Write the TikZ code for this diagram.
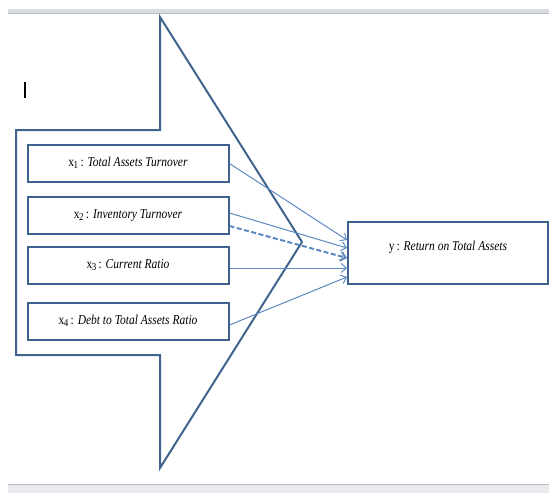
\documentclass[tikz,border=0pt]{standalone}
\usepackage{fontspec}
\setmainfont{Liberation Serif}
\usetikzlibrary{arrows.meta}
\definecolor{shapeline}{HTML}{41648F}
\definecolor{boxline}{HTML}{3F6190}
\definecolor{arrowcol}{HTML}{5E88C0}
\definecolor{barfill}{HTML}{D9DCE1}
\definecolor{barline}{HTML}{B8BCC4}
\tikzset{
  varbox/.style={draw=boxline, line width=2pt, fill=white, rectangle, inner sep=0pt,
    minimum width=201pt, minimum height=37pt, font=\fontsize{11.5}{13}\selectfont},
  resbox/.style={draw=boxline, line width=2pt, fill=white, rectangle, inner sep=0pt,
    minimum width=200pt, minimum height=62pt, font=\fontsize{11.5}{13}\selectfont},
  linkarrow/.style={draw=arrowcol, line width=1pt, -{Straight Barb[length=5pt,width=9pt]}},
  dasharrow/.style={draw=arrowcol, line width=2pt, dash pattern=on 5pt off 2.5pt,
    -{Straight Barb[length=5pt,width=9pt]}},
  bigarrow/.style={draw=shapeline, line width=2pt, line join=miter}
}
\newcommand{\lab}[2]{\raisebox{3pt}{\scalebox{1}[1.18]{x\textsubscript{\kern-0.5pt\fontsize{9}{10}\selectfont #1}\,: \textit{#2}}}}
\begin{document}
\begin{tikzpicture}[x=1pt,y=-1pt]
\useasboundingbox (0,0) rectangle (549,493);
% window chrome: ruler and status bar
\fill[barfill] (8,9) rectangle (549,13);
\draw[barline, line width=0.6pt] (8,13) -- (549,13);
\fill[barfill!60] (8,484) rectangle (549,493);
\draw[barline, line width=0.8pt] (8,484) -- (549,484);
% text cursor
\draw[black, line width=1.4pt] (25,82) -- (25,98);
% big block arrow
\draw[bigarrow] (16,130) -- (160,130) -- (160,17) -- (302,242) -- (160,468) -- (160,355) -- (16,355) -- cycle;
% variable boxes
\node[varbox] (x1) at (128,163.5) {\lab{1}{Total Assets Turnover}};
\node[varbox] (x2) at (128,215.5) {\lab{2}{Inventory Turnover}};
\node[varbox] (x3) at (128,265.5) {\lab{3}{Current Ratio}};
\node[varbox] (x4) at (128,321.5) {\lab{4}{Debt to Total Assets Ratio}};
% result box
\node[resbox] (y) at (448,253) {\raisebox{14pt}{\scalebox{1}[1.18]{y\,: \textit{Return on Total Assets}}}};
% connectors
\draw[linkarrow] (x1.east) -- ([yshift=13pt]y.west);
\draw[linkarrow] ([yshift=2.5pt]x2.east) -- ([yshift=5pt]y.west);
\draw[dasharrow] ([yshift=-10.5pt]x2.east) -- ([yshift=-5pt]y.west);
\draw[linkarrow] ([yshift=-2.5pt]x3.east) -- ([yshift=-15pt]y.west);
\draw[linkarrow] ([yshift=-3.5pt]x4.east) -- ([yshift=-24pt]y.west);
\end{tikzpicture}
\end{document}
